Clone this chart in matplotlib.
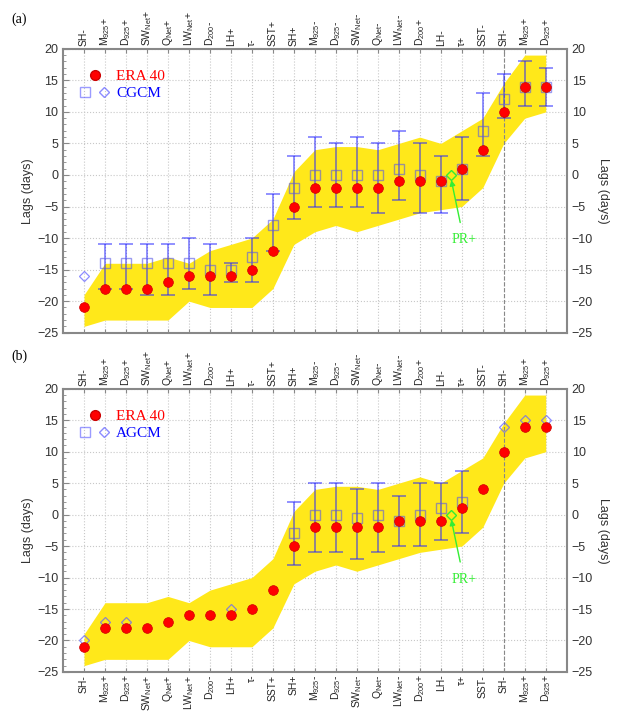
import numpy as np
import matplotlib.pyplot as plt
from matplotlib.lines import Line2D
from matplotlib.legend_handler import HandlerTuple
from matplotlib.ticker import MultipleLocator

plt.rcParams['font.family'] = ['Liberation Sans', 'DejaVu Sans']
plt.rcParams['mathtext.fontset'] = 'custom'
plt.rcParams['mathtext.rm'] = 'Liberation Sans'
plt.rcParams['mathtext.it'] = 'Liberation Sans:italic'

# composite life-cycle of the anomalies
labels = ['SH-', 'M$_{925}$+', 'D$_{925}$+', 'SW$_{\\mathrm{Net}}$+', 'Q$_{\\mathrm{Net}}$+',
          'LW$_{\\mathrm{Net}}$+', 'D$_{200}$-', 'LH+', 'τ-', 'SST+', 'SH+',
          'M$_{925}$-', 'D$_{925}$-', 'SW$_{\\mathrm{Net}}$-', 'Q$_{\\mathrm{Net}}$-',
          'LW$_{\\mathrm{Net}}$-', 'D$_{200}$+', 'LH-', 'τ+', 'SST-', 'SH-',
          'M$_{925}$+', 'D$_{925}$+']

era40 = [-21, -18, -18, -18, -17, -16, -16, -16, -15, -12, -5, -2, -2, -2, -2,
         -1, -1, -1, 1, 4, 10, 14, 14]

# spread of the reanalysis lags (shaded band)
band_lo = [-24, -23, -23, -23, -23, -20, -21, -21, -21, -18, -11, -9, -8, -9, -8,
           -7, -6, -5.5, -5, -2, 5, 9, 10]
band_hi = [-19, -14, -14, -14, -13, -14, -12, -11, -10, -7, 0.5, 4, 4.5, 4.5, 4,
           5, 6, 5, 7, 9, 14.5, 19, 19]

nan = np.nan
# coupled model: lag, min and max of the members
cgcm = [nan, -14, -14, -14, -14, -14, -15, -15, -13, -8, -2, 0, 0, 0, 0,
        1, 0, -1, 1, 7, 12, 14, 14]
cgcm_lo = [nan, -18, -18, -19, -19, -18, -19, -17, -17, -12, -7, -5, -5, -5, -6,
           -4, -6, -6, -4, 3, 9, 11, 11]
cgcm_hi = [nan, -11, -11, -11, -11, -10, -11, -14, -10, -3, 3, 6, 5, 6, 5,
           7, 5, 3, 6, 13, 16, 18, 17]
cgcm_single = [-16, nan, nan, nan, nan, nan, nan, nan, nan, nan, nan, nan, nan,
               nan, nan, nan, nan, nan, nan, nan, nan, nan, nan]

# atmosphere-only model
agcm = [nan, nan, nan, nan, nan, nan, nan, nan, nan, nan, -3, 0, 0, -0.5, 0,
        -1, 0, 1, 2, nan, nan, nan, nan]
agcm_lo = [nan, nan, nan, nan, nan, nan, nan, nan, nan, nan, -8, -6, -6, -7, -6,
           -5, -5, -4, -3, nan, nan, nan, nan]
agcm_hi = [nan, nan, nan, nan, nan, nan, nan, nan, nan, nan, 2, 5, 5, 4, 5,
           3, 5, 5, 7, nan, nan, nan, nan]
agcm_single = [-20, -17, -17, nan, nan, nan, nan, -15, nan, nan, nan, nan, nan,
               nan, nan, nan, nan, nan, nan, nan, 14, 15, 15]

# precipitation marker (between LH and tau)
pr_pos = 18.5
pr_lag = 0
pr_label_pos = (19.1, -10.3)

YELLOW = '#ffe81a'
BLUE_T = (0.15, 0.15, 1.0, 0.55)
GREEN = '#33ee33'
SERIF = ['Liberation Serif', 'DejaVu Serif']


def draw_panel(ax, mod, mod_lo, mod_hi, mod_single, name, tag, bottom_labels):
    x = np.arange(1, len(labels) + 1)
    mod = np.array(mod, dtype=float)
    lo = np.array(mod_lo, dtype=float)
    hi = np.array(mod_hi, dtype=float)

    ax.fill_between(x, band_lo, band_hi, color=YELLOW, lw=0, zorder=1)
    ax.axvline(x[20], color='#888888', ls='--', lw=0.8, zorder=1.5)

    ax.errorbar(x, mod, yerr=[mod - lo, hi - mod], fmt='none', ecolor=BLUE_T,
                elinewidth=1.3, capsize=5, capthick=1.3, zorder=3)
    ax.plot(x, mod, 's', ms=7.5, mfc='none', mec=(0.35, 0.35, 0.9, 0.6), mew=1, zorder=4)
    ax.plot(x, mod_single, 'D', ms=5, mfc='none', mec=(0.4, 0.4, 1.0, 0.75), mew=0.9, zorder=4)
    ax.plot(x, era40, 'o', ms=7, color='red', mec='#cc0000', mew=0.5, zorder=5)

    ax.plot(pr_pos, pr_lag, 'D', ms=5, mfc='none', mec=GREEN, mew=1, zorder=6)
    ax.annotate('PR+', xy=(pr_pos, pr_lag - 0.8), xytext=pr_label_pos,
                color=GREEN, fontsize=10, family=SERIF, ha='center', va='center',
                arrowprops=dict(arrowstyle='-|>', color=GREEN, lw=1,
                                shrinkA=6, shrinkB=0, mutation_scale=8),
                zorder=6)

    h_era = Line2D([], [], ls='none', marker='o', ms=7, color='red', mec='#cc0000')
    h_sq = Line2D([], [], ls='none', marker='s', ms=7.5, mfc='none',
                  mec=(0.35, 0.35, 1.0, 0.6))
    h_dm = Line2D([], [], ls='none', marker='D', ms=5, mfc='none',
                  mec=(0.4, 0.4, 1.0, 0.75))
    ax.legend([h_era, (h_sq, h_dm)], ['ERA 40', name],
              handler_map={tuple: HandlerTuple(ndivide=None, pad=0.5)},
              loc='upper left', bbox_to_anchor=(0.005, 0.975), frameon=False,
              prop={'family': SERIF, 'size': 11}, labelcolor=['red', 'blue'],
              handlelength=2.0, handletextpad=0.4, labelspacing=0.2)

    ax.set_xlim(0, len(labels) + 1)
    ax.set_ylim(-25, 20)
    ax.set_xticks(x)
    ax.set_xticklabels(labels)
    ax.yaxis.set_major_locator(MultipleLocator(5))
    ax.yaxis.set_minor_locator(MultipleLocator(1))
    ax.grid(True, color='#c8c8c8', ls=':', lw=0.8, zorder=0)
    ax.set_axisbelow(True)

    ax.tick_params(axis='x', which='both', direction='in', top=True, bottom=True,
                   labeltop=True, labelbottom=bottom_labels, rotation=90,
                   labelsize=7.5, length=3, color='#888888', labelcolor='#222222', pad=2)
    ax.tick_params(axis='y', which='major', direction='in', left=True, right=True,
                   length=4, color='#888888', labelsize=9, labelcolor='#333333')
    ax.tick_params(axis='y', which='minor', direction='in', left=True, right=True,
                   length=2, color='#888888')
    ax.set_ylabel('Lags (days)', fontsize=9, color='#333333', labelpad=2)

    for s in ax.spines.values():
        s.set_color('#888888')
        s.set_linewidth(1.5)

    ax_r = ax.twinx()
    ax_r.set_ylim(ax.get_ylim())
    ax_r.yaxis.set_major_locator(MultipleLocator(5))
    ax_r.yaxis.set_minor_locator(MultipleLocator(1))
    ax_r.tick_params(axis='y', which='both', direction='in', length=0,
                     labelsize=9, labelcolor='#333333')
    ax_r.set_ylabel('Lags (days)', fontsize=9, color='#333333', rotation=270,
                    labelpad=12)
    for s in ax_r.spines.values():
        s.set_visible(False)


fig = plt.figure(figsize=(6.18, 7.28), dpi=100)
ax_a = fig.add_axes([0.102, 0.543, 0.815, 0.390])
ax_b = fig.add_axes([0.102, 0.077, 0.815, 0.389])

draw_panel(ax_a, cgcm, cgcm_lo, cgcm_hi, cgcm_single, 'CGCM', '(a)', False)
draw_panel(ax_b, agcm, agcm_lo, agcm_hi, agcm_single, 'AGCM', '(b)', True)

fig.text(0.018, 0.973, '(a)', family=SERIF, fontsize=10, va='center')
fig.text(0.018, 0.51, '(b)', family=SERIF, fontsize=10, va='center')

fig.savefig('out.png', dpi=100)
